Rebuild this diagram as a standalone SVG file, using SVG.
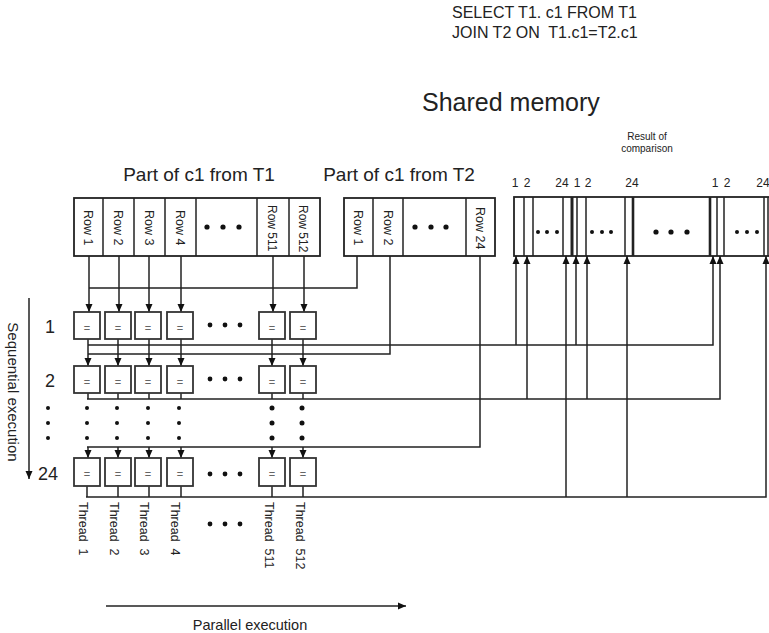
<svg xmlns="http://www.w3.org/2000/svg" width="769" height="633" viewBox="0 0 769 633">
<style>
text{font-family:"Liberation Sans",Arial,sans-serif;fill:#222;white-space:pre}
.cell{fill:#fff;stroke:#222;stroke-width:1.8}
.box{fill:#fff;stroke:#333;stroke-width:1.8}
.eq{font-size:11px;fill:#666;text-anchor:middle}
.rl{font-size:12.5px}
.rs{font-size:12px}
.th{font-size:12.5px}
.ln{fill:none;stroke:#222;stroke-width:1.5}
.ar{fill:none;stroke:#222;stroke-width:1.5;marker-end:url(#ah)}
.dot{fill:#111}
.num{font-size:18px;text-anchor:middle}
.rn{font-size:12px;text-anchor:middle}
</style>
<defs>
<marker id="ah" viewBox="0 0 8 8" markerWidth="8" markerHeight="8" refX="8" refY="4" orient="auto" markerUnits="userSpaceOnUse">
<path d="M0,0.5 L8,4 L0,7.5 z" fill="#111"/>
</marker>
</defs>

<!-- titles -->
<text x="452" y="18" font-size="16">SELECT T1. c1 FROM T1</text>
<text x="452" y="38" font-size="16">JOIN T2 ON  T1.c1=T2.c1</text>
<text x="422" y="111" font-size="25">Shared memory</text>
<text x="647" y="140" font-size="10" text-anchor="middle">Result of</text>
<text x="647" y="152" font-size="10" text-anchor="middle">comparison</text>
<text x="199" y="181" font-size="19" text-anchor="middle">Part of c1 from T1</text>
<text x="399" y="181" font-size="19" text-anchor="middle">Part of c1 from T2</text>

<!-- T1 block -->
<g id="t1">
<rect class="cell" x="74" y="198" width="246" height="58"/>
<line class="ln" x1="103" y1="198" x2="103" y2="256"/>
<line class="ln" x1="134" y1="198" x2="134" y2="256"/>
<line class="ln" x1="165" y1="198" x2="165" y2="256"/>
<line class="ln" x1="196" y1="198" x2="196" y2="256"/>
<line class="ln" x1="257" y1="198" x2="257" y2="256"/>
<line class="ln" x1="289" y1="198" x2="289" y2="256"/>
<text class="rl" transform="translate(84,210) rotate(90)">Row 1</text>
<text class="rl" transform="translate(114,210) rotate(90)">Row 2</text>
<text class="rl" transform="translate(145,210) rotate(90)">Row 3</text>
<text class="rl" transform="translate(176,210) rotate(90)">Row 4</text>
<text class="rs" transform="translate(268,205) rotate(90)">Row 511</text>
<text class="rs" transform="translate(299,205) rotate(90)">Row 512</text>
<circle class="dot" cx="207" cy="227" r="2.6"/>
<circle class="dot" cx="223" cy="227" r="2.6"/>
<circle class="dot" cx="239" cy="227" r="2.6"/>
</g>

<!-- T2 block -->
<g id="t2">
<rect class="cell" x="344" y="198" width="151" height="58"/>
<line class="ln" x1="373" y1="198" x2="373" y2="256"/>
<line class="ln" x1="403" y1="198" x2="403" y2="256"/>
<line class="ln" x1="466" y1="198" x2="466" y2="256"/>
<text class="rl" transform="translate(354,210) rotate(90)">Row 1</text>
<text class="rl" transform="translate(384,210) rotate(90)">Row 2</text>
<text class="rl" transform="translate(476,207) rotate(90)">Row 24</text>
<circle class="dot" cx="415" cy="227" r="2.6"/>
<circle class="dot" cx="431" cy="227" r="2.6"/>
<circle class="dot" cx="446" cy="227" r="2.6"/>
</g>

<!-- Result block -->
<g id="result">
<rect class="cell" x="514" y="197" width="270" height="59"/>
<line class="ln" x1="524" y1="197" x2="524" y2="256"/>
<line class="ln" x1="533" y1="197" x2="533" y2="256"/>
<line class="ln" x1="563" y1="197" x2="563" y2="256"/>
<line class="ln" x1="572" y1="197" x2="572" y2="256" style="stroke-width:3"/>
<line class="ln" x1="577" y1="197" x2="577" y2="256"/>
<line class="ln" x1="586" y1="197" x2="586" y2="256"/>
<line class="ln" x1="625" y1="197" x2="625" y2="256"/>
<line class="ln" x1="633" y1="197" x2="633" y2="256" style="stroke-width:2.6"/>
<line class="ln" x1="710" y1="197" x2="710" y2="256" style="stroke-width:2.6"/>
<line class="ln" x1="717" y1="197" x2="717" y2="256"/>
<line class="ln" x1="724" y1="197" x2="724" y2="256"/>
<line class="ln" x1="764" y1="197" x2="764" y2="256"/>
<line class="ln" x1="768" y1="197" x2="768" y2="256"/>
<text class="rn" x="515" y="187">1</text>
<text class="rn" x="527" y="187">2</text>
<text class="rn" x="562" y="187">24</text>
<text class="rn" x="577" y="187">1</text>
<text class="rn" x="588" y="187">2</text>
<text class="rn" x="632" y="187">24</text>
<text class="rn" x="715" y="187">1</text>
<text class="rn" x="727" y="187">2</text>
<text class="rn" x="763" y="187">24</text>
<circle class="dot" cx="538" cy="232" r="2"/>
<circle class="dot" cx="547" cy="232" r="2"/>
<circle class="dot" cx="557" cy="232" r="2"/>
<circle class="dot" cx="592" cy="232" r="2"/>
<circle class="dot" cx="602" cy="232" r="2"/>
<circle class="dot" cx="611" cy="232" r="2"/>
<circle class="dot" cx="656" cy="232" r="2.6"/>
<circle class="dot" cx="671" cy="232" r="2.6"/>
<circle class="dot" cx="687" cy="232" r="2.6"/>
<circle class="dot" cx="737" cy="232" r="2"/>
<circle class="dot" cx="747" cy="232" r="2"/>
<circle class="dot" cx="757" cy="232" r="2"/>
</g>

<!-- connectors -->
<g id="connectors">
<line class="ar" x1="89" y1="256" x2="89" y2="312"/>
<line class="ar" x1="119" y1="256" x2="119" y2="312"/>
<line class="ar" x1="149" y1="256" x2="149" y2="312"/>
<line class="ar" x1="181" y1="256" x2="181" y2="312"/>
<line class="ar" x1="273" y1="256" x2="273" y2="312"/>
<line class="ar" x1="304" y1="256" x2="304" y2="312"/>
<polyline class="ln" points="357,256 357,288 89,288"/>
<line class="ar" x1="88" y1="339" x2="88" y2="366"/>
<line class="ar" x1="118" y1="339" x2="118" y2="366"/>
<line class="ar" x1="149" y1="339" x2="149" y2="366"/>
<line class="ar" x1="181" y1="339" x2="181" y2="366"/>
<line class="ar" x1="272" y1="339" x2="272" y2="366"/>
<line class="ar" x1="303" y1="339" x2="303" y2="366"/>
<polyline class="ln" points="390,256 390,354 88,354"/>
<polyline class="ar" points="88,345 713,345 713,256"/>
<line class="ar" x1="516" y1="345" x2="516" y2="256"/>
<line class="ar" x1="576" y1="345" x2="576" y2="256"/>
<line class="ln" x1="88" y1="393" x2="88" y2="399"/>
<line class="ln" x1="118" y1="393" x2="118" y2="399"/>
<line class="ln" x1="149" y1="393" x2="149" y2="399"/>
<line class="ln" x1="181" y1="393" x2="181" y2="399"/>
<line class="ln" x1="272" y1="393" x2="272" y2="399"/>
<line class="ln" x1="303" y1="393" x2="303" y2="399"/>
<polyline class="ar" points="87,399 720,399 720,256"/>
<line class="ar" x1="527" y1="399" x2="527" y2="256"/>
<line class="ar" x1="587" y1="399" x2="587" y2="256"/>
<polyline class="ln" points="480,256 480,447 87,447"/>
<line class="ar" x1="88" y1="447" x2="88" y2="458"/>
<line class="ar" x1="118" y1="447" x2="118" y2="458"/>
<line class="ar" x1="149" y1="447" x2="149" y2="458"/>
<line class="ar" x1="181" y1="447" x2="181" y2="458"/>
<line class="ar" x1="272" y1="447" x2="272" y2="458"/>
<line class="ar" x1="303" y1="447" x2="303" y2="458"/>
<line class="ln" x1="87" y1="486" x2="87" y2="497"/>
<line class="ln" x1="118" y1="486" x2="118" y2="497"/>
<line class="ln" x1="149" y1="486" x2="149" y2="497"/>
<line class="ln" x1="181" y1="486" x2="181" y2="497"/>
<line class="ln" x1="272" y1="486" x2="272" y2="497"/>
<line class="ln" x1="303" y1="486" x2="303" y2="497"/>
<polyline class="ar" points="86,497 766,497 766,256"/>
<line class="ar" x1="566" y1="497" x2="566" y2="256"/>
<line class="ar" x1="627" y1="497" x2="627" y2="256"/>
<line class="ar" x1="29" y1="298" x2="29" y2="479"/>
<line class="ar" x1="106" y1="606" x2="406" y2="606"/>
</g>

<!-- thread boxes -->
<g id="row1">
<rect class="box" x="74" y="312" width="26" height="27"/><text class="eq" x="87" y="332">=</text>
<rect class="box" x="105" y="312" width="26" height="27"/><text class="eq" x="118" y="332">=</text>
<rect class="box" x="135" y="312" width="26" height="27"/><text class="eq" x="148" y="332">=</text>
<rect class="box" x="167" y="312" width="26" height="27"/><text class="eq" x="180" y="332">=</text>
<rect class="box" x="259" y="312" width="26" height="27"/><text class="eq" x="272" y="332">=</text>
<rect class="box" x="290" y="312" width="26" height="27"/><text class="eq" x="303" y="332">=</text>
<circle class="dot" cx="210" cy="325" r="2.4"/><circle class="dot" cx="225" cy="325" r="2.4"/><circle class="dot" cx="240" cy="325" r="2.4"/>
</g>
<g id="row2">
<rect class="box" x="74" y="366" width="26" height="27"/><text class="eq" x="87" y="386">=</text>
<rect class="box" x="105" y="366" width="26" height="27"/><text class="eq" x="118" y="386">=</text>
<rect class="box" x="135" y="366" width="26" height="27"/><text class="eq" x="148" y="386">=</text>
<rect class="box" x="167" y="366" width="26" height="27"/><text class="eq" x="180" y="386">=</text>
<rect class="box" x="259" y="366" width="26" height="27"/><text class="eq" x="272" y="386">=</text>
<rect class="box" x="290" y="366" width="26" height="27"/><text class="eq" x="303" y="386">=</text>
<circle class="dot" cx="210" cy="379" r="2.4"/><circle class="dot" cx="225" cy="379" r="2.4"/><circle class="dot" cx="240" cy="379" r="2.4"/>
</g>
<g id="row24">
<rect class="box" x="74" y="458" width="26" height="28"/><text class="eq" x="87" y="478">=</text>
<rect class="box" x="105" y="458" width="26" height="28"/><text class="eq" x="118" y="478">=</text>
<rect class="box" x="135" y="458" width="26" height="28"/><text class="eq" x="148" y="478">=</text>
<rect class="box" x="167" y="458" width="26" height="28"/><text class="eq" x="180" y="478">=</text>
<rect class="box" x="259" y="458" width="26" height="28"/><text class="eq" x="272" y="478">=</text>
<rect class="box" x="290" y="458" width="26" height="28"/><text class="eq" x="303" y="478">=</text>
<circle class="dot" cx="210" cy="474" r="2.4"/><circle class="dot" cx="225" cy="474" r="2.4"/><circle class="dot" cx="240" cy="474" r="2.4"/>
</g>

<g id="vdots">
<circle class="dot" cx="48" cy="408" r="2"/><circle class="dot" cx="48" cy="423" r="2"/><circle class="dot" cx="48" cy="438" r="2"/>
<circle class="dot" cx="87" cy="408" r="2"/><circle class="dot" cx="87" cy="423" r="2"/><circle class="dot" cx="87" cy="438" r="2"/>
<circle class="dot" cx="117" cy="408" r="2"/><circle class="dot" cx="117" cy="423" r="2"/><circle class="dot" cx="117" cy="438" r="2"/>
<circle class="dot" cx="148" cy="408" r="2"/><circle class="dot" cx="148" cy="423" r="2"/><circle class="dot" cx="148" cy="438" r="2"/>
<circle class="dot" cx="179" cy="408" r="2"/><circle class="dot" cx="179" cy="423" r="2"/><circle class="dot" cx="179" cy="438" r="2"/>
<circle class="dot" cx="272" cy="408" r="2.5"/><circle class="dot" cx="272" cy="423" r="2.5"/><circle class="dot" cx="272" cy="438" r="2.5"/>
<circle class="dot" cx="302" cy="408" r="2.5"/><circle class="dot" cx="302" cy="423" r="2.5"/><circle class="dot" cx="302" cy="438" r="2.5"/>
</g>

<text class="num" x="50" y="333">1</text>
<text class="num" x="50" y="387">2</text>
<text class="num" x="48" y="480">24</text>
<text font-size="15" text-anchor="middle" transform="translate(8,392) rotate(90)">Sequential execution</text>
<text font-size="14.5" x="250" y="630" text-anchor="middle">Parallel execution</text>

<g id="threads">
<text class="th" transform="translate(79,502) rotate(90)">Thread  1</text>
<text class="th" transform="translate(110,502) rotate(90)">Thread  2</text>
<text class="th" transform="translate(140,502) rotate(90)">Thread  3</text>
<text class="th" transform="translate(171,502) rotate(90)">Thread  4</text>
<text class="th" transform="translate(265,502) rotate(90)">Thread  511</text>
<text class="th" transform="translate(296,502) rotate(90)">Thread  512</text>
<circle class="dot" cx="210" cy="524" r="2.4"/><circle class="dot" cx="225" cy="524" r="2.4"/><circle class="dot" cx="240" cy="524" r="2.4"/>
</g>
</svg>
